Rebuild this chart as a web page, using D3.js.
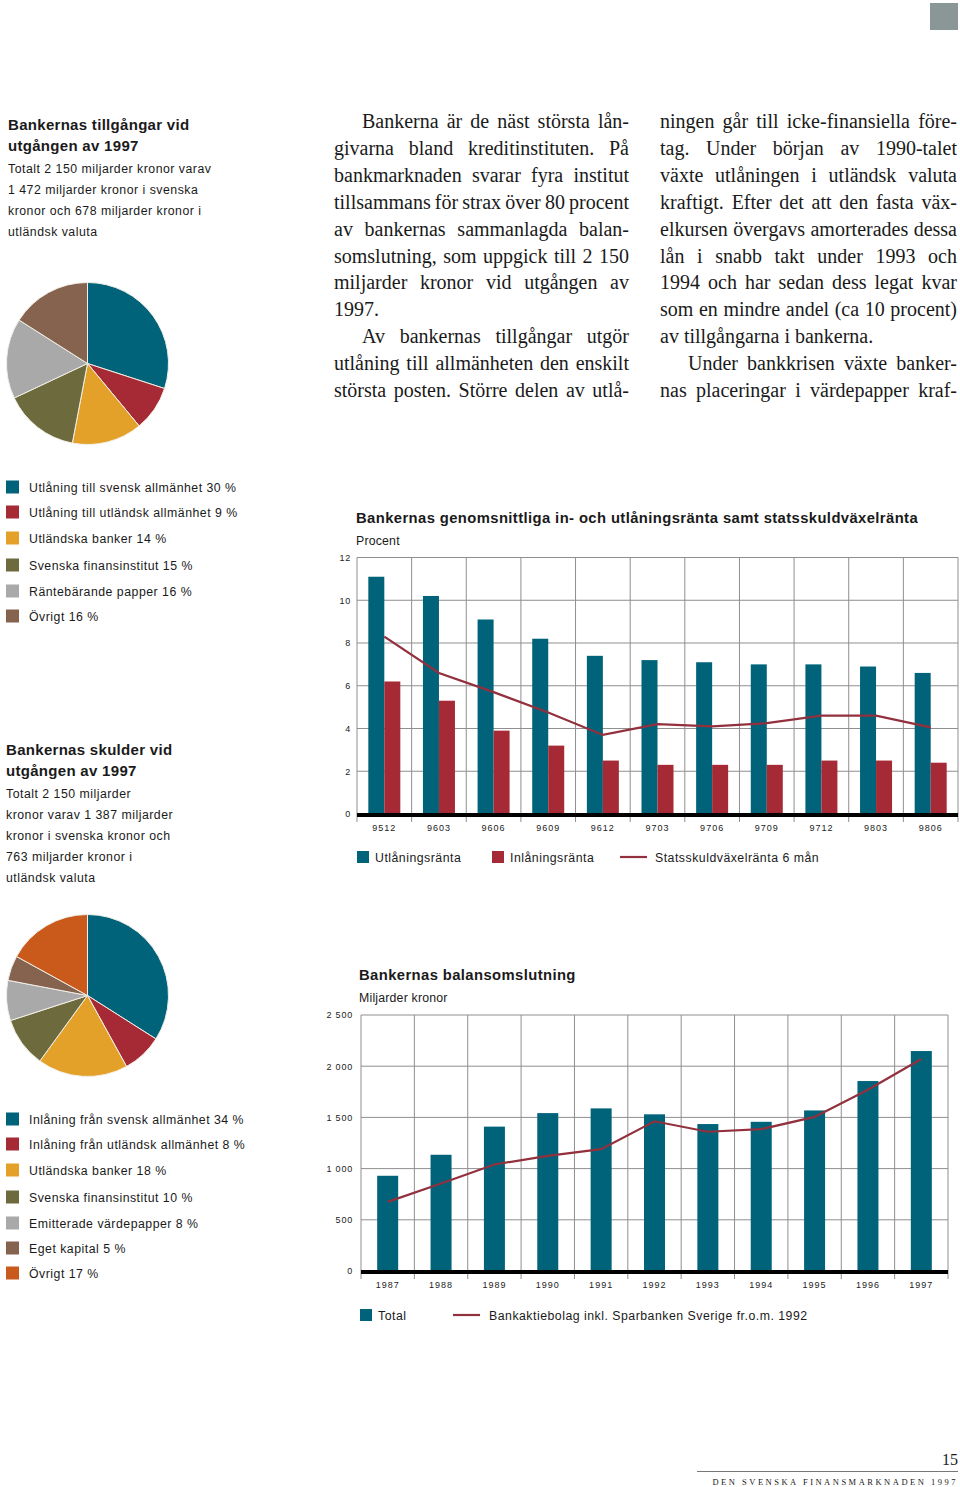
<!DOCTYPE html>
<html><head><meta charset="utf-8">
<script src="https://cdn.jsdelivr.net/npm/d3@7"></script>
<style>
body{margin:0;background:#fff;}
svg{display:block;}
.sans{font-family:"Liberation Sans",Arial,sans-serif;fill:#1a1a1a;}
.serif{font-family:"Liberation Serif","Times New Roman",serif;fill:#1a1a1a;}
</style></head>
<body>
<svg id="c" width="960" height="1487"></svg>
<script>
// ---------- DATA ----------
const assetLabels = ["Utlåning till svensk allmänhet 30 %","Utlåning till utländsk allmänhet 9 %","Utländska banker 14 %","Svenska finansinstitut 15 %","Räntebärande papper 16 %","Övrigt 16 %"];
const assetValues = [30, 9, 14, 15, 16, 16];
const debtLabels = ["Inlåning från svensk allmänhet 34 %","Inlåning från utländsk allmänhet 8 %","Utländska banker 18 %","Svenska finansinstitut 10 %","Emitterade värdepapper 8 %","Eget kapital 5 %","Övrigt 17 %"];
const debtValues = [34, 8, 18, 10, 8, 5, 17];

const rateCats = ["9512","9603","9606","9609","9612","9703","9706","9709","9712","9803","9806"];
const lendingRate = [11.1, 10.2, 9.1, 8.2, 7.4, 7.2, 7.1, 7.0, 7.0, 6.9, 6.6];
const depositRate = [6.2, 5.3, 3.9, 3.2, 2.5, 2.3, 2.3, 2.3, 2.5, 2.5, 2.4];
const tbillRate   = [8.3, 6.6, 5.7, 4.75, 3.7, 4.2, 4.1, 4.25, 4.6, 4.6, 4.05];
const rateTicks = [0, 2, 4, 6, 8, 10, 12];

const years = ["1987","1988","1989","1990","1991","1992","1993","1994","1995","1996","1997"];
const totalBalance = [930, 1135, 1410, 1542, 1588, 1530, 1435, 1457, 1568, 1855, 2148];
const bankAB = [675, 855, 1040, 1125, 1190, 1462, 1360, 1385, 1505, 1770, 2070];
const balTicks = [0, 500, 1000, 1500, 2000, 2500];
const balTickLabels = ["0","500","1 000","1 500","2 000","2 500"];

const col1 = [
 {t:"Bankerna är de näst största lån-", indent:true},
 {t:"givarna bland kreditinstituten. På"},
 {t:"bankmarknaden svarar fyra institut"},
 {t:"tillsammans för strax över 80 procent"},
 {t:"av bankernas sammanlagda balan-"},
 {t:"somslutning, som uppgick till 2 150"},
 {t:"miljarder kronor vid utgången av"},
 {t:"1997.", last:true},
 {t:"Av bankernas tillgångar utgör", indent:true},
 {t:"utlåning till allmänheten den enskilt"},
 {t:"största posten. Större delen av utlå-"}
];
const col2 = [
 {t:"ningen går till icke-finansiella före-"},
 {t:"tag. Under början av 1990-talet"},
 {t:"växte utlåningen i utländsk valuta"},
 {t:"kraftigt. Efter det att den fasta väx-"},
 {t:"elkursen övergavs amorterades dessa"},
 {t:"lån i snabb takt under 1993 och"},
 {t:"1994 och har sedan dess legat kvar"},
 {t:"som en mindre andel (ca 10 procent)"},
 {t:"av tillgångarna i bankerna.", last:true},
 {t:"Under bankkrisen växte banker-", indent:true},
 {t:"nas placeringar i värdepapper kraf-"}
];

// ---------- STYLE ----------
const TEAL="#00637a", RED="#a52a35", ORANGE="#e4a12a", OLIVE="#6d6b3e", GRAY="#a9a9a9", BROWN="#86634f", RUST="#c95a1c", LINE="#93303d", GRID="#8f8f8f";
const assetColors=[TEAL,RED,ORANGE,OLIVE,GRAY,BROWN];
const debtColors=[TEAL,RED,ORANGE,OLIVE,GRAY,BROWN,RUST];

const svg = d3.select("#c");

// corner square
svg.append("rect").attr("x",930).attr("y",3).attr("width",28).attr("height",27).attr("fill","#8b9797");

// ---------- body text (justified) ----------
function column(lines, x0, width, y0, lh){
  lines.forEach((ln,i)=>{
    const y = y0 + i*lh;
    const xs = x0 + (ln.indent?28:0);
    const w = width - (ln.indent?28:0);
    const words = ln.t.split(" ");
    const g = svg.append("g");
    if (ln.last){
      g.append("text").attr("class","serif").attr("x",xs).attr("y",y).attr("font-size",20).text(ln.t);
      return;
    }
    const nodes = words.map(wd=>g.append("text").attr("class","serif").attr("font-size",20).attr("y",y).text(wd));
    const widths = nodes.map(n=>n.node().getComputedTextLength());
    const sum = d3.sum(widths);
    let gap = (w - sum)/(words.length-1);
    if (gap < 2.5){
      g.remove();
      svg.append("text").attr("class","serif").attr("x",xs).attr("y",y).attr("font-size",20)
        .attr("textLength",w).attr("lengthAdjust","spacingAndGlyphs").text(ln.t);
      return;
    }
    let cx = xs;
    nodes.forEach((n,k)=>{ n.attr("x",cx); cx += widths[k]+gap; });
  });
}
column(col1, 334, 295, 128, 26.9);
column(col2, 660, 297, 128, 26.9);

// ---------- left text blocks ----------
function block(lines, x, y, lh, size, weight, ls){
  lines.forEach((t,i)=>svg.append("text").attr("class","sans").attr("x",x).attr("y",y+i*lh)
    .attr("font-size",size).attr("font-weight",weight).attr("letter-spacing",ls).text(t));
}
block(["Bankernas tillgångar vid","utgången av 1997"],8,130,21,15,"bold",0.3);
block(["Totalt 2 150 miljarder kronor varav","1 472 miljarder kronor i svenska","kronor och 678 miljarder kronor i","utländsk valuta"],8,172.5,21,12.3,"normal",0.5);
block(["Bankernas skulder vid","utgången av 1997"],6,755,21,15,"bold",0.3);
block(["Totalt 2 150 miljarder","kronor varav 1 387 miljarder","kronor i svenska kronor och","763 miljarder kronor i","utländsk valuta"],6,797.5,21,12.3,"normal",0.5);

// ---------- pies ----------
function pie(values, colors, cx, cy, r){
  const arcs = d3.pie().sort(null).value(d=>d)(values);
  const arc = d3.arc().innerRadius(0).outerRadius(r);
  svg.append("g").attr("transform",`translate(${cx},${cy})`)
    .selectAll("path").data(arcs).join("path")
    .attr("d",arc).attr("fill",(d,i)=>colors[i]).attr("stroke","#f2efe6").attr("stroke-width",1);
}
pie(assetValues, assetColors, 87.5, 363.5, 81);
pie(debtValues, debtColors, 87.5, 995.5, 81);

// ---------- pie legends ----------
function legend(labels, colors, y0, steps){
  labels.forEach((t,i)=>{
    const y = y0 + steps[i];
    svg.append("rect").attr("x",6).attr("y",y-6.5).attr("width",13).attr("height",13).attr("fill",colors[i]);
    svg.append("text").attr("class","sans").attr("x",29).attr("y",y+4.5).attr("font-size",12.3).attr("letter-spacing",0.5).text(t);
  });
}
legend(assetLabels, assetColors, 487, [0,25,51,78,104,129]);
legend(debtLabels, debtColors, 1119, [0,25,51,78,104,129,154]);

// ---------- chart 1: rates ----------
{
  const L=357, R=958, T=557.5, B=814;
  const x = d3.scaleBand().domain(rateCats).range([L,R]).paddingInner(0).paddingOuter(0);
  const y = d3.scaleLinear().domain([0,12]).range([B,T]);
  const g = svg.append("g");
  svg.append("text").attr("class","sans").attr("x",356).attr("y",523).attr("font-size",14.8).attr("font-weight","bold").attr("letter-spacing",0.4)
    .text("Bankernas genomsnittliga in- och utlåningsränta samt statsskuldväxelränta");
  svg.append("text").attr("class","sans").attr("x",356).attr("y",544.5).attr("font-size",12.3).attr("letter-spacing",0.2).text("Procent");
  g.selectAll("line.h").data(rateTicks.filter(d=>d>0)).join("line")
    .attr("x1",L).attr("x2",R).attr("y1",d=>y(d)).attr("y2",d=>y(d)).attr("stroke",GRID).attr("stroke-width",1);
  const bounds = rateCats.map(c=>x(c)).concat([R]);
  g.selectAll("line.v").data(bounds).join("line")
    .attr("x1",d=>d).attr("x2",d=>d).attr("y1",T).attr("y2",B+8).attr("stroke",GRID).attr("stroke-width",1);
  const bw = 16;
  g.selectAll("rect.l").data(lendingRate).join("rect")
    .attr("x",(d,i)=>x(rateCats[i])+x.bandwidth()/2-bw).attr("width",bw)
    .attr("y",d=>y(d)).attr("height",d=>B-y(d)).attr("fill",TEAL);
  g.selectAll("rect.d").data(depositRate).join("rect").attr("class","d")
    .attr("x",(d,i)=>x(rateCats[i])+x.bandwidth()/2).attr("width",bw)
    .attr("y",d=>y(d)).attr("height",d=>B-y(d)).attr("fill",RED);
  const line = d3.line().x((d,i)=>x(rateCats[i])+x.bandwidth()/2).y(d=>y(d));
  g.append("path").attr("d",line(tbillRate)).attr("fill","none").attr("stroke",LINE).attr("stroke-width",2.2);
  g.append("line").attr("x1",L).attr("x2",R).attr("y1",B+1).attr("y2",B+1).attr("stroke","#000").attr("stroke-width",4);
  const ya = d3.axisLeft(y).tickValues(rateTicks).tickSize(0).tickPadding(6);
  const yg = svg.append("g").attr("transform",`translate(${L},0)`).call(ya);
  yg.select(".domain").remove();
  yg.selectAll("text").attr("font-family","Liberation Sans, Arial").attr("font-size",9).attr("fill","#222").attr("letter-spacing",0.8);
  const xa = d3.axisBottom(x).tickSize(0).tickPadding(0);
  const xg = svg.append("g").attr("transform",`translate(0,${B+10})`).call(xa);
  xg.select(".domain").remove();
  xg.selectAll("text").attr("font-family","Liberation Sans, Arial").attr("font-size",9).attr("fill","#222").attr("letter-spacing",1).attr("dy","0.75em");
  const ly=857;
  svg.append("rect").attr("x",357).attr("y",ly-6).attr("width",12).attr("height",12).attr("fill",TEAL);
  svg.append("text").attr("class","sans").attr("x",375).attr("y",ly+4.5).attr("font-size",12.3).attr("letter-spacing",0.5).text("Utlåningsränta");
  svg.append("rect").attr("x",492).attr("y",ly-6).attr("width",12).attr("height",12).attr("fill",RED);
  svg.append("text").attr("class","sans").attr("x",510).attr("y",ly+4.5).attr("font-size",12.3).attr("letter-spacing",0.5).text("Inlåningsränta");
  svg.append("line").attr("x1",620).attr("x2",647).attr("y1",ly).attr("y2",ly).attr("stroke",LINE).attr("stroke-width",2.2);
  svg.append("text").attr("class","sans").attr("x",655).attr("y",ly+4.5).attr("font-size",12.3).attr("letter-spacing",0.5).text("Statsskuldväxelränta 6 mån");
}

// ---------- chart 2: balance ----------
{
  const L=361, R=948, T=1015, B=1271;
  const x = d3.scaleBand().domain(years).range([L,R]);
  const y = d3.scaleLinear().domain([0,2500]).range([B,T]);
  const g = svg.append("g");
  svg.append("text").attr("class","sans").attr("x",359).attr("y",980).attr("font-size",14.8).attr("font-weight","bold").attr("letter-spacing",0.4).text("Bankernas balansomslutning");
  svg.append("text").attr("class","sans").attr("x",359).attr("y",1001.5).attr("font-size",12.3).attr("letter-spacing",0.2).text("Miljarder kronor");
  g.selectAll("line.h").data(balTicks.filter(d=>d>0)).join("line")
    .attr("x1",L).attr("x2",R).attr("y1",d=>y(d)).attr("y2",d=>y(d)).attr("stroke",GRID).attr("stroke-width",1);
  const bounds = years.map(c=>x(c)).concat([R]);
  g.selectAll("line.v").data(bounds).join("line")
    .attr("x1",d=>d).attr("x2",d=>d).attr("y1",T).attr("y2",B+8).attr("stroke",GRID).attr("stroke-width",1);
  const bw=21;
  g.selectAll("rect.t").data(totalBalance).join("rect")
    .attr("x",(d,i)=>x(years[i])+x.bandwidth()/2-bw/2).attr("width",bw)
    .attr("y",d=>y(d)).attr("height",d=>B-y(d)).attr("fill",TEAL);
  const line = d3.line().x((d,i)=>x(years[i])+x.bandwidth()/2).y(d=>y(d));
  g.append("path").attr("d",line(bankAB)).attr("fill","none").attr("stroke",LINE).attr("stroke-width",2.2);
  g.append("line").attr("x1",L).attr("x2",R).attr("y1",B+1).attr("y2",B+1).attr("stroke","#000").attr("stroke-width",4);
  const ya = d3.axisLeft(y).tickValues(balTicks).tickFormat((d,i)=>balTickLabels[i]).tickSize(0).tickPadding(8);
  const yg = svg.append("g").attr("transform",`translate(${L},0)`).call(ya);
  yg.select(".domain").remove();
  yg.selectAll("text").attr("font-family","Liberation Sans, Arial").attr("font-size",9).attr("fill","#222").attr("letter-spacing",0.8);
  const xa = d3.axisBottom(x).tickSize(0).tickPadding(0);
  const xg = svg.append("g").attr("transform",`translate(0,${B+10})`).call(xa);
  xg.select(".domain").remove();
  xg.selectAll("text").attr("font-family","Liberation Sans, Arial").attr("font-size",9).attr("fill","#222").attr("letter-spacing",1).attr("dy","0.75em");
  const ly=1315;
  svg.append("rect").attr("x",360).attr("y",ly-6).attr("width",12).attr("height",12).attr("fill",TEAL);
  svg.append("text").attr("class","sans").attr("x",378).attr("y",ly+4.5).attr("font-size",12.3).attr("letter-spacing",0.5).text("Total");
  svg.append("line").attr("x1",453).attr("x2",480).attr("y1",ly).attr("y2",ly).attr("stroke",LINE).attr("stroke-width",2.2);
  svg.append("text").attr("class","sans").attr("x",489).attr("y",ly+4.5).attr("font-size",12.3).attr("letter-spacing",0.5).text("Bankaktiebolag inkl. Sparbanken Sverige fr.o.m. 1992");
}

// ---------- footer ----------
svg.append("text").attr("class","serif").attr("x",958).attr("y",1465).attr("text-anchor","end").attr("font-size",16).attr("fill","#333").text("15");
svg.append("line").attr("x1",697).attr("x2",958).attr("y1",1471.5).attr("y2",1471.5).attr("stroke","#777").attr("stroke-width",1);
svg.append("text").attr("class","serif").attr("x",958).attr("y",1485).attr("text-anchor","end").attr("font-size",8.5).attr("letter-spacing",2.5).attr("fill","#333").text("DEN SVENSKA FINANSMARKNADEN 1997");
</script>
</body></html>
